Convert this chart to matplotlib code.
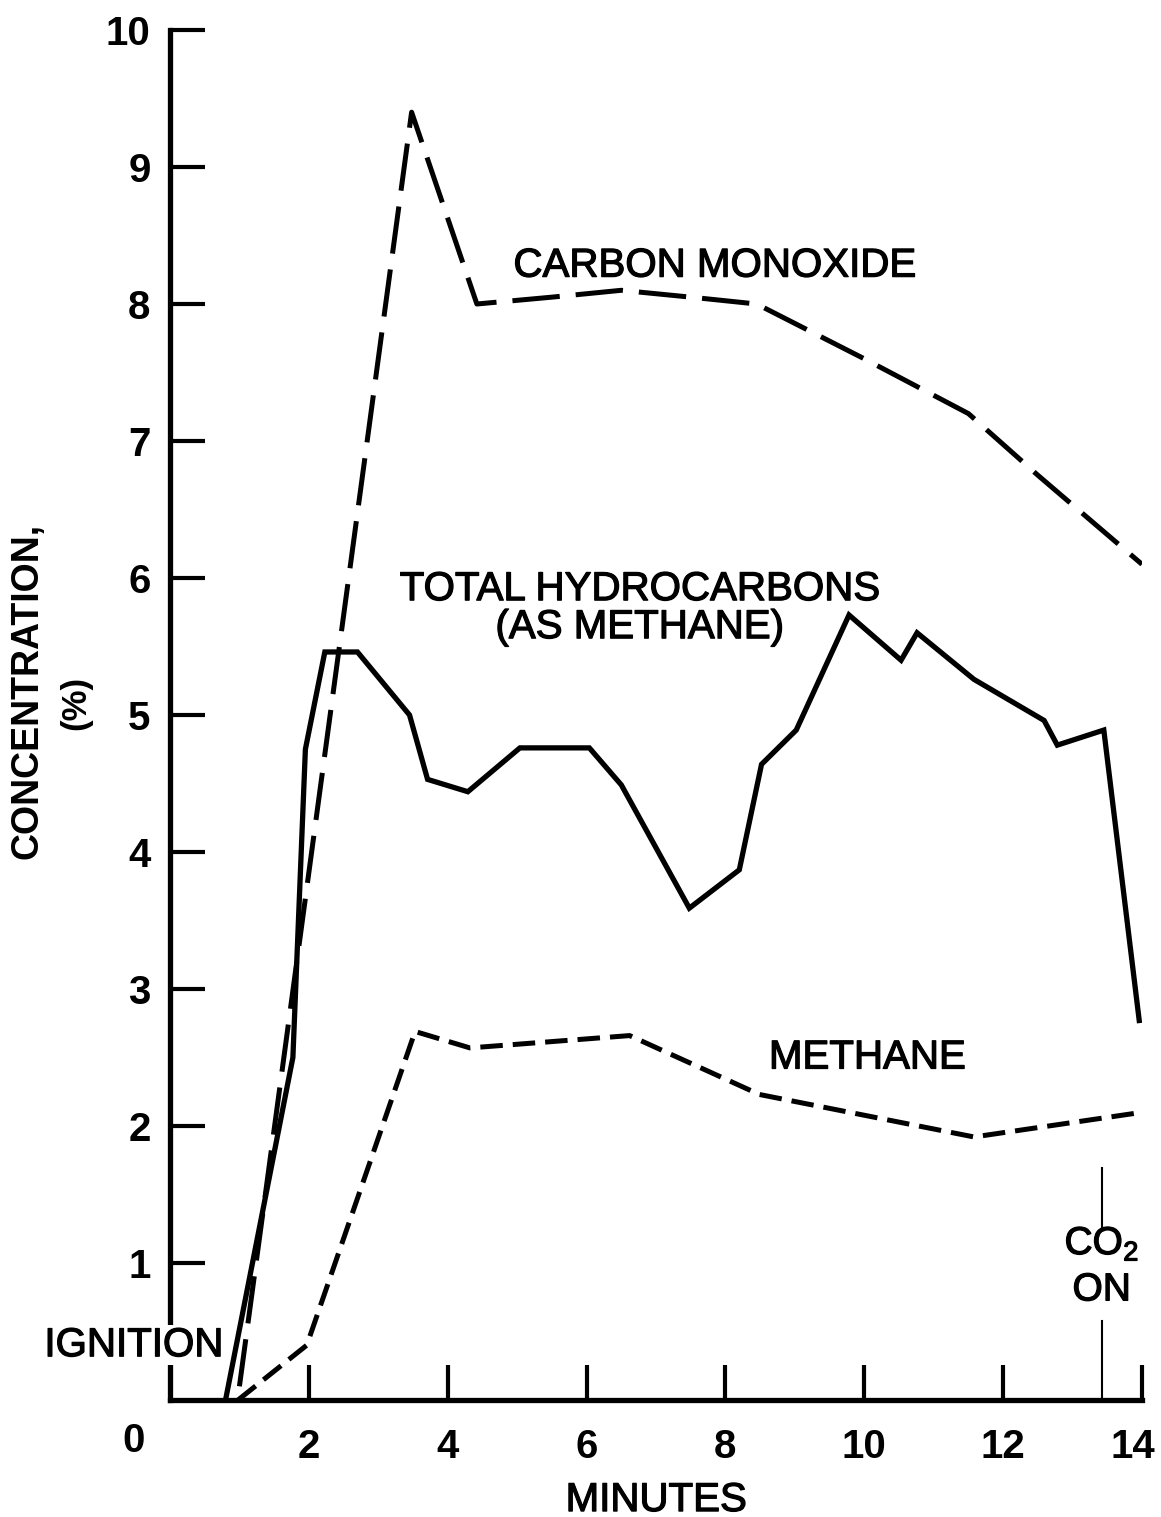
import matplotlib
matplotlib.use("Agg")
import matplotlib.pyplot as plt
import matplotlib.transforms as mtransforms
import matplotlib.patheffects as pe

plt.rcParams['font.family'] = ['Liberation Sans', 'DejaVu Sans']
plt.rcParams['mathtext.fontset'] = 'custom'
plt.rcParams['mathtext.rm'] = 'Liberation Sans'

# values (minutes, % concentration)
co_time = [1.0, 3.48, 4.42, 5.5, 6.5, 7.5, 8.45, 10.0, 11.5, 12.5, 14.0]
co_conc = [0.1, 9.4, 8.0, 8.05, 8.1, 8.05, 8.0, 7.6, 7.2, 6.75, 6.1]

thc_time = [0.8, 1.77, 1.95, 2.23, 2.7, 3.45, 3.71, 4.29, 5.04, 6.04, 6.5,
            7.48, 8.2, 8.52, 9.02, 9.78, 10.53, 10.76, 11.58, 12.59, 12.78,
            13.45, 13.96]
thc_conc = [0.0, 2.5, 4.75, 5.46, 5.46, 5.0, 4.53, 4.44, 4.76, 4.76, 4.49,
            3.59, 3.87, 4.64, 4.89, 5.73, 5.4, 5.6, 5.26, 4.96, 4.78,
            4.89, 2.77]

ch4_time = [0.98, 1.97, 3.53, 4.32, 6.62, 8.49, 11.58, 14.0]
ch4_conc = [0.0, 0.4, 2.69, 2.57, 2.66, 2.23, 1.92, 2.1]

x_ticks = [2, 4, 6, 8, 10, 12, 14]
y_ticks = [1, 2, 3, 4, 5, 6, 7, 8, 9, 10]

fig = plt.figure(figsize=(11.61, 15.17), dpi=100)
ax = fig.add_axes([170 / 1161, 1 - 1400 / 1517, 972 / 1161, 1370 / 1517])

ax.plot(co_time, co_conc, color='black', lw=3.6, dashes=(9.5, 3.2), zorder=4)
ax.plot(thc_time, thc_conc, color='black', lw=3.8, solid_joinstyle='miter', zorder=4)
ax.plot(ch4_time, ch4_conc, color='black', lw=3.6, dashes=(4.5, 2.0), zorder=4)

ax.set_xlim(0, 14)
ax.set_ylim(0, 10)
for side in ['top', 'right']:
    ax.spines[side].set_visible(False)
for side in ['left', 'bottom']:
    ax.spines[side].set_linewidth(3.8)

ax.set_xticks(x_ticks)
ax.set_yticks(y_ticks)
ax.tick_params(direction='in', length=25, width=3, labelsize=29)
ax.tick_params(axis='y', pad=14)
ax.tick_params(axis='x', pad=20)
for lab in ax.get_xticklabels() + ax.get_yticklabels():
    lab.set_fontweight('bold')
# last label sits slightly inside the right edge
last = ax.get_xticklabels()[-1]
last.set_transform(last.get_transform() +
                   mtransforms.ScaledTranslation(-9 / 100, 0, fig.dpi_scale_trans))

thick = [pe.withStroke(linewidth=0.9, foreground='black')]

ax.text(-0.53, -0.3, '0', fontsize=29, fontweight='bold', ha='center', va='center',
        clip_on=False)
ax.set_xlabel('MINUTES', fontsize=29, labelpad=11, path_effects=thick)
fig.text(28 / 1161, 1 - 691 / 1517, 'CONCENTRATION,', rotation=90, fontsize=27,
         fontweight='bold', ha='center', va='center')
fig.text(76 / 1161, 1 - 703 / 1517, '(%)', rotation=90, fontsize=25,
         fontweight='bold', ha='center', va='center')

ax.text(7.84, 8.28, 'CARBON MONOXIDE', fontsize=29, ha='center', va='center',
        path_effects=thick)
ax.text(6.76, 5.78, 'TOTAL HYDROCARBONS\n(AS METHANE)', fontsize=29, ha='center',
        va='center', linespacing=1.0, path_effects=thick)
ax.text(10.04, 2.5, 'METHANE', fontsize=29, ha='center', va='center',
        path_effects=thick)
ax.text(0.76, 0.4, 'IGNITION', fontsize=29, ha='right', va='center', clip_on=False,
        zorder=5, path_effects=thick,
        bbox=dict(facecolor='white', edgecolor='none', pad=1))

# CO2 switched on
ax.plot([13.42, 13.42], [1.24, 1.69], color='black', lw=1.5)
ax.plot([13.42, 13.42], [0.0, 0.58], color='black', lw=1.5)
ax.text(13.42, 1.14, 'CO$_2$', fontsize=28, ha='center', va='center',
        path_effects=thick)
ax.text(13.42, 0.8, 'ON', fontsize=28, ha='center', va='center', path_effects=thick)

fig.savefig('out.png', dpi=100)
